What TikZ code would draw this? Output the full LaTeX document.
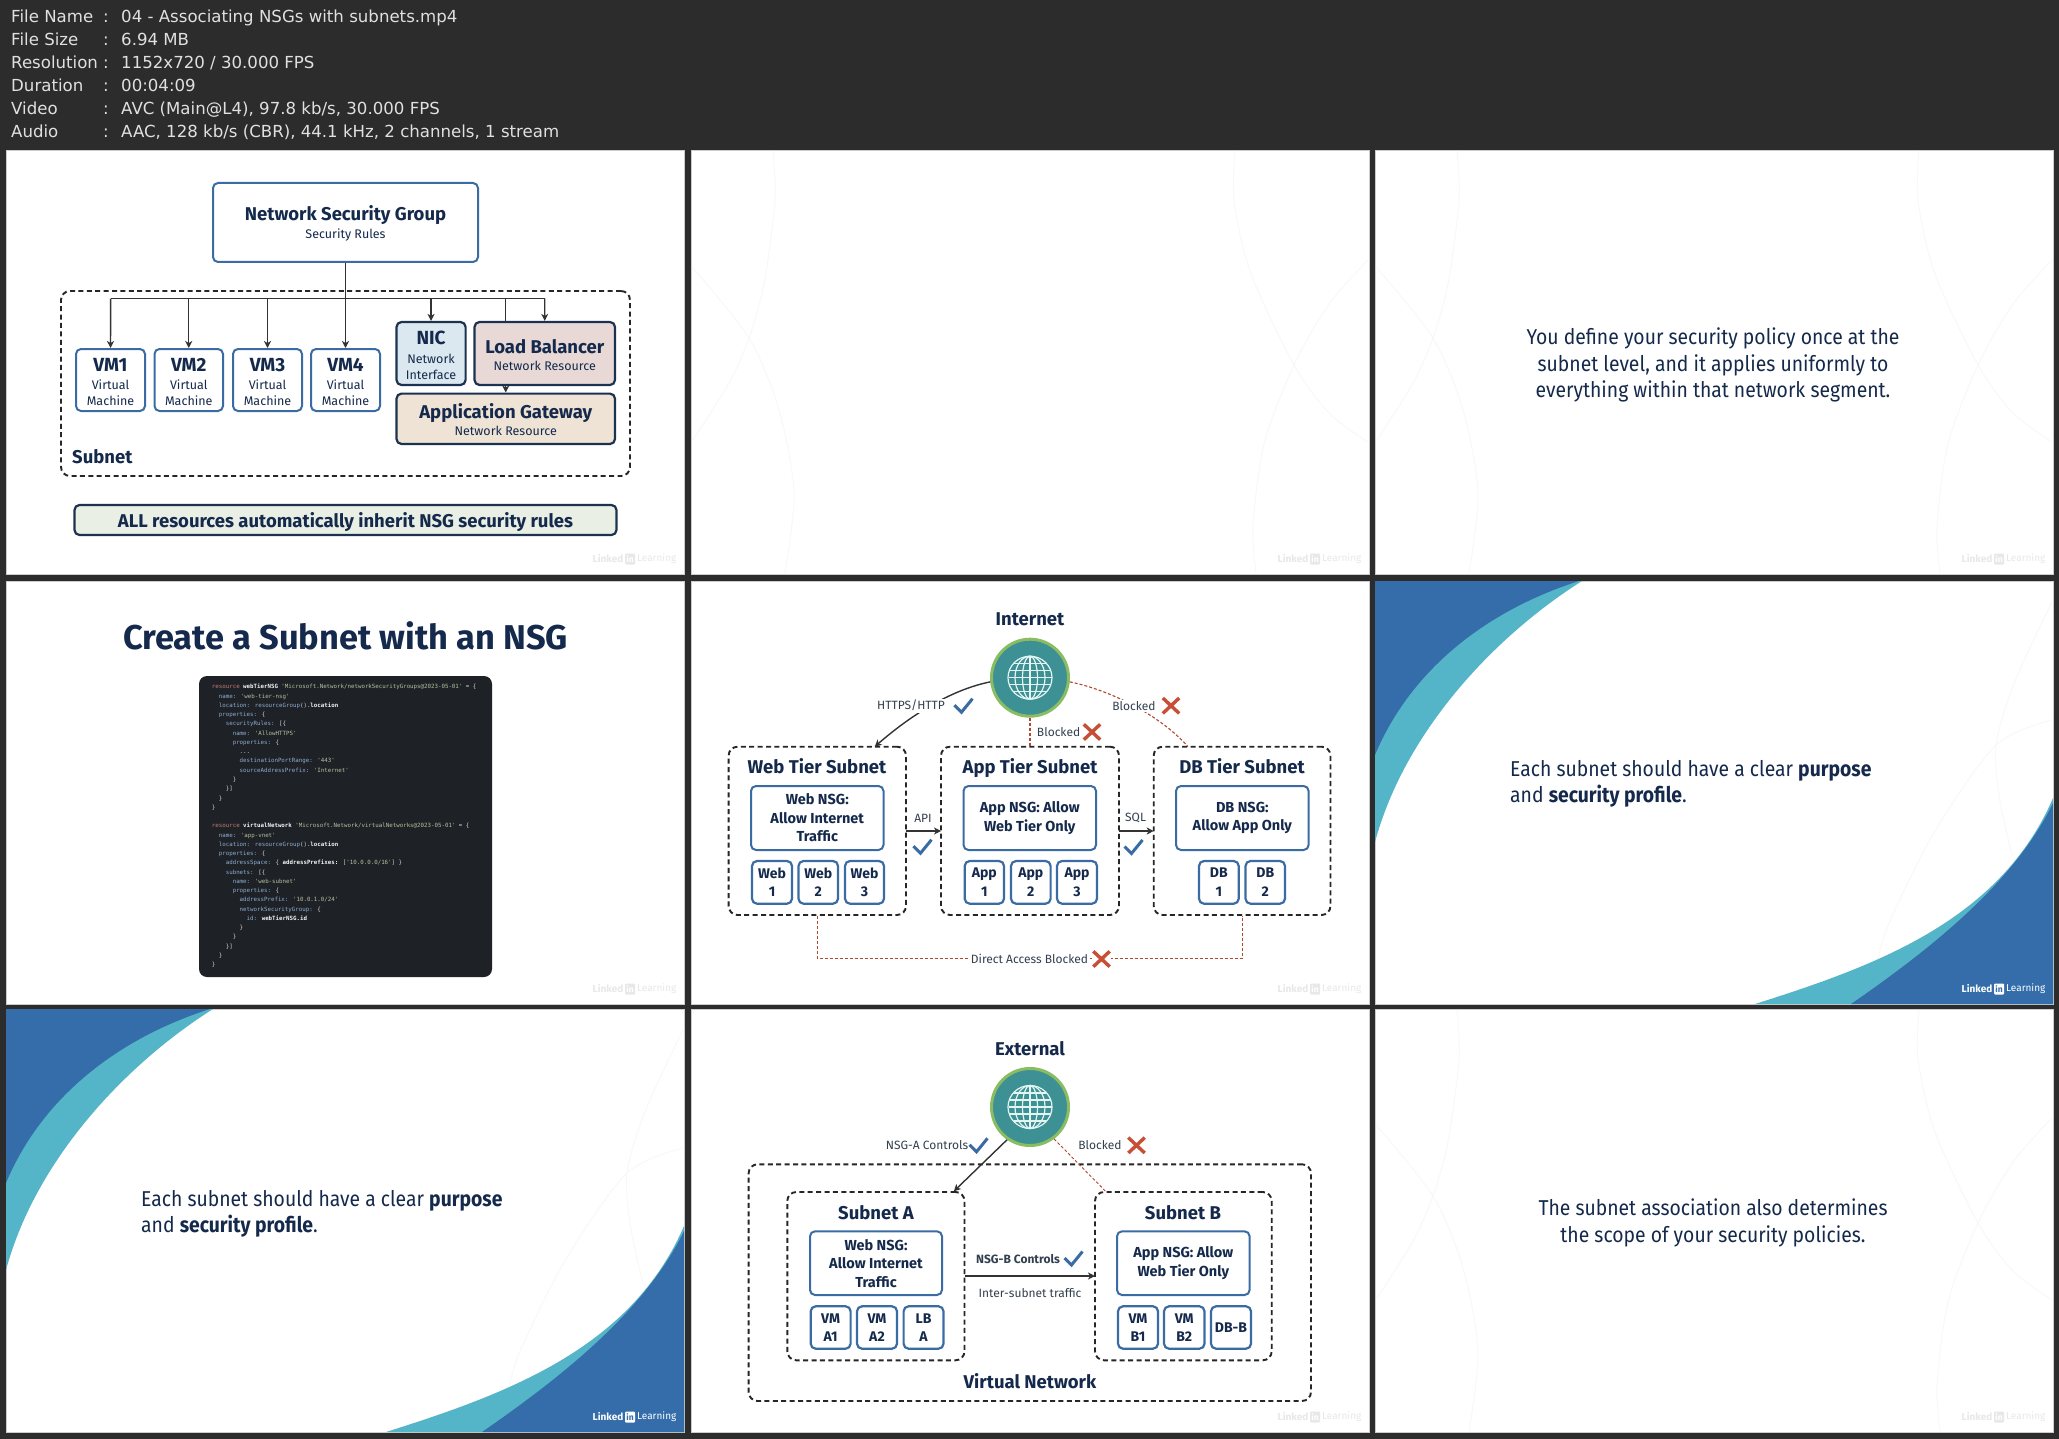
\documentclass[tikz,border=0pt]{standalone}
\usepackage{fontspec}
\setmainfont{Fira Sans}
\newfontfamily\slidef[FakeStretch=0.9]{Fira Sans}
\newfontfamily\hdr{DejaVu Sans}
\newfontfamily\cod{DejaVu Sans Mono}
\usetikzlibrary{arrows.meta,shapes.misc}
\definecolor{bgd}{HTML}{2C2C2C}
\definecolor{navy}{HTML}{14294B}
\definecolor{ink}{HTML}{33404F}
\definecolor{bluebd}{HTML}{3A6CA3}
\definecolor{darkbd}{HTML}{1C3350}
\definecolor{swA}{HTML}{346DAA}
\definecolor{swB}{HTML}{55B5C8}
\definecolor{redx}{HTML}{C64F36}
\definecolor{faintc}{HTML}{F8F9F7}
\definecolor{wm}{HTML}{E8E8E8}
\definecolor{ckw}{HTML}{C97E74}
\definecolor{cst}{HTML}{B4C49E}
\definecolor{cky}{HTML}{8FAED2}
\definecolor{cid}{HTML}{F4F4F4}
\definecolor{cfg}{HTML}{D5DADF}
\definecolor{codebg}{HTML}{1E2126}
\definecolor{nicf}{HTML}{DCE8F0}
\definecolor{lbf}{HTML}{E8D9D6}
\definecolor{agf}{HTML}{EFE3D5}
\definecolor{banf}{HTML}{E9EFE4}
\definecolor{globef}{HTML}{3D9093}
\definecolor{globeb}{HTML}{8ABD62}
\definecolor{globel}{HTML}{E3F5F3}
\definecolor{Wbg}{HTML}{FFFFFF}
\definecolor{Bbg}{HTML}{346DAA}
\newcommand{\fsz}[1]{\fontsize{#1}{#1}\selectfont}
\newcommand{\rb}[7]{\pgfmathsetmacro\rbw{#4-#2}\pgfmathsetmacro\rbh{#5-#3}%
  \node[#6,minimum width=\rbw pt,minimum height=\rbh pt] (#1) at ({(#2+#4)/2},{(#3+#5)/2}) {#7};}
\newcommand{\chk}[2]{\draw[bluebd,line width=3pt] (#1-9.5,#2-0.5)--(#1-2.5,#2+6.5)--(#1+8.5,#2-7);}
\newcommand{\crs}[3]{\node[crossx] (#1) at (#2,#3) {};}
\newcommand{\logo}[4]{% panel x, y, colour, tag
  \node[text=#3,font=\bfseries\fsz{10},anchor=east,inner sep=0pt] (lk#4#1#2) at (#1+617.5,#2+408) {Linked};
  \node[fill=#3,text=#4bg,font=\bfseries\fsz{8.5},rounded corners=1pt,inner sep=0pt,minimum width=10pt,minimum height=11pt] (in#4#1#2) at (#1+624,#2+408) {in};
  \node[text=#3,font=\fsz{10},anchor=west,inner sep=0pt] (ln#4#1#2) at (#1+631,#2+408) {Learning};}
\newcommand{\faintcurves}[2]{\begin{scope}[shift={(#1,#2)},faintc,line width=1pt]
  \draw plot[smooth] coordinates {(82,1)(84,50)(73,133)(58,187)(38,232)(2,289)};
  \draw plot[smooth] coordinates {(1,116)(58,187)(88,259)(103,342)(94,422)};
  \draw plot[smooth] coordinates {(544,1)(543,50)(560,123)(603,214)(638,262)(677,291)};
  \draw plot[smooth] coordinates {(677,109)(638,153)(603,214)(573,293)(562,376)(565,422)};
  \end{scope}}
\newcommand{\swoosh}[2]{\begin{scope}[shift={(#1,#2)}]
  \draw[faintc,line width=1pt] plot[smooth] coordinates {(677,21)(640,100)(621,164)(625,220)(637,274)};
  \draw[faintc,line width=1pt] plot[smooth] coordinates {(677,139)(621,164)(560,250)(515,340)(503,378)};
  \fill[swB] (0,0) -- (207,0) .. controls (120,55) and (30,150) .. (0,261) -- cycle;
  \fill[swA] (0,0) -- (204,0) .. controls (110,30) and (35,90) .. (0,174) -- cycle;
  \fill[swB] (678,423) -- (678,217) .. controls (625,340) and (500,385) .. (380,423) -- cycle;
  \fill[swA] (678,423) -- (678,222) .. controls (640,300) and (560,365) .. (476,423) -- cycle;
  \end{scope}}
\newcommand{\globe}[3]{% name, x, y
  \node[globec] (#1) at (#2,#3) {};
  \begin{scope}[shift={(#2,#3)},draw=globel,line width=1.2pt]
  \draw (0,0) ellipse (22pt and 21.5pt);
  \draw (0,0) ellipse (15pt and 21.5pt);
  \draw (0,0) ellipse (7.5pt and 21.5pt);
  \draw (0,-21.5) -- (0,21.5);
  \draw (-20.5,-7) -- (20.5,-7); \draw (-21.5,0) -- (21.5,0); \draw (-20.5,7) -- (20.5,7);
  \draw (-16,-14) -- (16,-14); \draw (-16,14) -- (16,14);
  \end{scope}}
\newcommand{\tstrutA}{\rule{0pt}{16.5pt}}
\newcommand{\tstrutB}{\rule{0pt}{17pt}}
\tikzset{
  panelbox/.style={fill=white,draw=black!20,line width=1pt},
  dashbox/.style={draw=black!85,line width=1.9pt,dash pattern=on 5pt off 3.4pt,rounded corners=9pt},
  vmbox/.style={draw=bluebd,line width=2pt,rounded corners=5pt,fill=white,align=center,text=navy,inner sep=0pt,font=\fsz{12.5},execute at begin node={\baselineskip=15.8pt}},
  darkbox/.style={draw=darkbd,line width=2.2pt,rounded corners=5pt,align=center,text=navy,inner sep=0pt,font=\fsz{12.5},execute at begin node={\baselineskip=15.8pt}},
  nsgtext/.style={vmbox,font=\bfseries\fsz{14.5},execute at begin node={\baselineskip=18.5pt}},
  smallbox/.style={vmbox,line width=2.2pt,font=\bfseries\fsz{14},execute at begin node={\baselineskip=18.5pt}},
  ttl/.style={text=navy,inner sep=0pt,font=\bfseries\fsz{18.5},text height=14pt,text depth=4pt,yshift=-1.5pt},
  lbl/.style={text=ink,inner sep=1.5pt,font=\fsz{12}},
  slidetxt/.style={text=navy,inner sep=0pt,font=\slidef\fsz{21.5},align=center,execute at begin node={\baselineskip=26.4pt}},
  hdrt/.style={text=white!88!black,inner sep=0pt,font=\hdr\fsz{16.6},anchor=base west},
  arr/.style={draw=black!80,line width=1.4pt,-{Stealth[length=7pt,width=7pt,inset=2pt]}},
  redd/.style={draw=redx!90!black,line width=1.1pt,dash pattern=on 3pt off 2pt},
  crossx/.style={cross out,draw=redx,line width=3.4pt,inner sep=0pt,minimum width=13pt,minimum height=12pt},
  globec/.style={circle,fill=globef,draw=globeb,line width=3pt,minimum size=77pt,inner sep=0pt},
}
\begin{document}
\begin{tikzpicture}[x=1pt,y=-1pt]
\useasboundingbox (0,0) rectangle (2059,1439);
\fill[bgd] (0,0) rectangle (2059,1439);
% header
\foreach \yy/\kk/\vv in {23/File Name/{04 - Associating NSGs with subnets.mp4},46/File Size/{6.94 MB},69/Resolution/{1152x720 / 30.000 FPS},92/Duration/{00:04:09},115/Video/{AVC (Main@L4), 97.8 kb/s, 30.000 FPS},138/Audio/{AAC, 128 kb/s (CBR), 44.1 kHz, 2 channels, 1 stream}}{
  \node[hdrt] (hk\yy) at (11,\yy) {\kk};
  \node[hdrt] (hc\yy) at (103,\yy) {:};
  \node[hdrt] (hv\yy) at (121,\yy) {\vv};
}
% panels
\foreach \px/\py/\nm in {6/151/a,691/151/b,1375/151/c,6/581/d,691/581/e,1375/581/f,6/1009/g,691/1009/h,1375/1009/i}{
  \draw[panelbox] (\px,\py) rectangle (\px+678,\py+423);
}
\faintcurves{691}{151}\faintcurves{1375}{151}\faintcurves{1375}{1009}
\swoosh{1375}{581}\swoosh{6}{1009}
% watermarks
\logo{6}{151}{wm}{W}\logo{691}{151}{wm}{W}\logo{1375}{151}{wm}{W}\logo{6}{581}{wm}{W}\logo{691}{581}{wm}{W}\logo{691}{1009}{wm}{W}\logo{1375}{1009}{wm}{W}
\logo{1375}{581}{white}{B}\logo{6}{1009}{white}{B}

% ===== panel 1
\rb{nsg}{213}{183}{478}{262}{vmbox}{\tstrutA{\bfseries\fsz{18.5}Network Security Group}\\[2pt]Security Rules}
\rb{subnet1}{61}{291}{630}{476}{dashbox}{}
\node[ttl,anchor=west] (subnet1t) at (72,456.5) {Subnet};
\rb{vm1}{76}{349}{145}{411}{vmbox}{\tstrutB{\bfseries\fsz{19}VM1}\\[3pt]Virtual\\Machine}
\rb{vm2}{154.5}{349}{223}{411}{vmbox}{\tstrutB{\bfseries\fsz{19}VM2}\\[3pt]Virtual\\Machine}
\rb{vm3}{233}{349}{302}{411}{vmbox}{\tstrutB{\bfseries\fsz{19}VM3}\\[3pt]Virtual\\Machine}
\rb{vm4}{311}{349}{380}{411}{vmbox}{\tstrutB{\bfseries\fsz{19}VM4}\\[3pt]Virtual\\Machine}
\rb{nic}{396.5}{322}{465.6}{385}{darkbox,fill=nicf}{\tstrutB{\bfseries\fsz{19}NIC}\\[3pt]Network\\Interface}
\rb{lb}{474.5}{322}{615}{385}{darkbox,fill=lbf}{\tstrutA{\bfseries\fsz{18.5}Load Balancer}\\[1.5pt]Network Resource}
\rb{ag}{396.5}{393.6}{615}{444}{darkbox,fill=agf}{\tstrutA{\bfseries\fsz{18.5}Application Gateway}\\[1.5pt]Network Resource}
\rb{banner}{74.5}{505}{616.5}{535}{darkbox,fill=banf,font=\bfseries\fsz{18.5},text height=15pt,text depth=0pt}{ALL resources automatically inherit NSG security rules}
\coordinate (busL) at (110.7,298.6);
\coordinate (busR) at (544.7,298.6);
\draw[draw=black!80,line width=1.4pt] (busL) -- (busR);
\draw[arr] (nsg.south) -- (vm4.north);
\draw[arr] (busL) -- (vm1.north);
\draw[arr] (vm2.north |- busL) -- (vm2.north);
\draw[arr] (vm3.north |- busL) -- (vm3.north);
\draw[arr] (nic.north |- busL) -- (nic.north);
\draw[arr] (busR) -- (lb.north);
\draw[draw=black!80,line width=1.4pt] (ag.north |- busL) -- (ag.north |- lb.north);
\draw[arr] (ag.north |- lb.south) -- (ag.north);

% ===== panel 3
\node[slidetxt] (p3) at (1713,365) {You define your security policy once at the\\subnet level, and it applies uniformly to\\everything within that network segment.};

% ===== panel 4
\node[text=navy,inner sep=0pt,font=\bfseries\fsz{34.4}] (p4t) at (345.5,636) {Create a Subnet with an NSG};
\rb{codebox}{199}{676}{492}{977}{fill=codebg,rounded corners=8pt,inner sep=0pt}{}
\newcommand{\kw}[1]{\textcolor{ckw}{#1}}
\newcommand{\st}[1]{\textcolor{cst}{#1}}
\newcommand{\ky}[1]{\textcolor{cky}{#1}}
\newcommand{\idn}[1]{\textcolor{cid}{\bfseries #1}}
\newcommand{\IN}[1]{\hspace*{#1\dimexpr 3.48pt\relax}}
\node[anchor=north west,inner sep=0pt,align=left,text=cfg,font=\cod\fsz{5.78},execute at begin node={\baselineskip=9.26pt}] (code) at (211.7,684) {%
\kw{resource} \idn{webTierNSG} \st{'Microsoft.Network/networkSecurityGroups@2023-05-01'} = \{\\
\IN{2}\ky{name:} \st{'web-tier-nsg'}\\
\IN{2}\ky{location:} \ky{resourceGroup}().\idn{location}\\
\IN{2}\ky{properties:} \{\\
\IN{4}\ky{securityRules:} [\{\\
\IN{6}\ky{name:} \st{'AllowHTTPS'}\\
\IN{6}\ky{properties:} \{\\
\IN{8}...\\
\IN{8}\ky{destinationPortRange:} \st{'443'}\\
\IN{8}\ky{sourceAddressPrefix:} \st{'Internet'}\\
\IN{6}\}\\
\IN{4}\}]\\
\IN{2}\}\\
\}\\
\mbox{}\\
\kw{resource} \idn{virtualNetwork} \st{'Microsoft.Network/virtualNetworks@2023-05-01'} = \{\\
\IN{2}\ky{name:} \st{'app-vnet'}\\
\IN{2}\ky{location:} \ky{resourceGroup}().\idn{location}\\
\IN{2}\ky{properties:} \{\\
\IN{4}\ky{addressSpace:} \{ \idn{addressPrefixes:} [\st{'10.0.0.0/16'}] \}\\
\IN{4}\ky{subnets:} [\{\\
\IN{6}\ky{name:} \st{'web-subnet'}\\
\IN{6}\ky{properties:} \{\\
\IN{8}\ky{addressPrefix:} \st{'10.0.1.0/24'}\\
\IN{8}\ky{networkSecurityGroup:} \{\\
\IN{10}\ky{id:} \idn{webTierNSG.id}\\
\IN{8}\}\\
\IN{6}\}\\
\IN{4}\}]\\
\IN{2}\}\\
\}};

% ===== panel 5
\node[ttl] (inetl) at (1030,619.3) {Internet};
\globe{g5}{1030}{677.7}
\rb{web}{728.6}{746.7}{906}{915}{dashbox}{}
\rb{app}{941}{746.7}{1119}{915}{dashbox}{}
\rb{db}{1153.7}{746.7}{1330.5}{915}{dashbox}{}
\node[ttl] (webt) at (817,767) {Web Tier Subnet};
\node[ttl] (appt) at (1030,767) {App Tier Subnet};
\node[ttl] (dbt) at (1242,767) {DB Tier Subnet};
\rb{webn}{751}{786}{883.5}{850}{nsgtext}{Web NSG:\\Allow Internet\\Traffic}
\rb{appn}{963.5}{786}{1096}{850}{nsgtext}{App NSG: Allow\\Web Tier Only}
\rb{dbn}{1176}{786}{1308.6}{850}{nsgtext}{DB NSG:\\Allow App Only}
\rb{w1}{752}{861}{792}{903.7}{smallbox}{Web\\1}
\rb{w2}{798.5}{861}{838}{903.7}{smallbox}{Web\\2}
\rb{w3}{845}{861}{884}{903.7}{smallbox}{Web\\3}
\rb{a1}{964.7}{861}{1004}{903.7}{smallbox}{App\\1}
\rb{a2}{1011}{861}{1050.6}{903.7}{smallbox}{App\\2}
\rb{a3}{1057}{861}{1097}{903.7}{smallbox}{App\\3}
\rb{d1}{1199}{861}{1238.7}{903.7}{smallbox}{DB\\1}
\rb{d2}{1245.5}{861}{1285}{903.7}{smallbox}{DB\\2}
\coordinate (apiA) at (906,831); \coordinate (apiB) at (941,831);
\coordinate (sqlA) at (1119,831); \coordinate (sqlB) at (1153.7,831);
\draw[arr] (apiA) -- (apiB);
\draw[arr] (sqlA) -- (sqlB);
\node[lbl] (apil) at (923,818) {API};
\node[lbl] (sqll) at (1135.6,818) {SQL};
\chk{923}{846.7}\chk{1134}{847}
\coordinate (webin) at (874.7,746.7);
\draw[arr] (g5.186) .. controls (950,690) and (910,716) .. (webin);
\node[lbl,fill=white] (httpl) at (911,705.7) {HTTPS/HTTP};
\chk{964}{705.7}
\coordinate (dbin) at (1188,746.7);
\draw[redd] (g5.354) .. controls (1110,690) and (1160,715) .. (dbin);
\node[lbl,fill=white] (bl1) at (1134,705.7) {Blocked};
\crs{x1}{1171}{705.7}
\draw[redd] (g5.south) -- (app.north);
\node[lbl] (bl2) at (1058.6,732) {Blocked};
\crs{x2}{1092}{732}
\coordinate (dbus) at (1030,958.7);
\draw[redd] (web.south) |- (dbus) -| (db.south);
\node[lbl,fill=white] (dl) at (1029.5,959) {Direct Access Blocked};
\fill[white] (1092,950) rectangle (1111,968);
\crs{x3}{1101.5}{959}

% ===== panel 8
\node[ttl] (extl) at (1030,1049.3) {External};
\globe{g8}{1030}{1107}
\rb{vnet}{748.6}{1164.3}{1311}{1401}{dashbox}{}
\rb{sa}{787.3}{1192}{964.5}{1360.3}{dashbox}{}
\rb{sb}{1095}{1192}{1271.7}{1360.3}{dashbox}{}
\node[ttl] (sat) at (876,1212.7) {Subnet A};
\node[ttl] (sbt) at (1183,1212.7) {Subnet B};
\rb{an}{810}{1231.3}{942}{1295}{nsgtext}{Web NSG:\\Allow Internet\\Traffic}
\rb{bn}{1117}{1231.3}{1249.6}{1295}{nsgtext}{App NSG: Allow\\Web Tier Only}
\rb{va1}{810.7}{1306.3}{850.6}{1348.7}{smallbox}{VM\\A1}
\rb{va2}{857}{1306.3}{897}{1348.7}{smallbox}{VM\\A2}
\rb{lba}{903.6}{1306.3}{943.5}{1348.7}{smallbox}{LB\\A}
\rb{vb1}{1118}{1306.3}{1158}{1348.7}{smallbox}{VM\\B1}
\rb{vb2}{1164}{1306.3}{1204.5}{1348.7}{smallbox}{VM\\B2}
\rb{dbb}{1211}{1306.3}{1251}{1348.7}{smallbox}{DB-B}
\node[ttl] (vnl) at (1030,1381.7) {Virtual Network};
\coordinate (ain) at (953.8,1191.3);
\coordinate (bin) at (1105.6,1191.3);
\draw[arr] (g8.235) -- (ain);
\draw[redd,line width=0.9pt] (g8.307) -- (bin);
\node[lbl] (nal) at (927,1145.3) {NSG-A Controls};
\chk{979}{1145.3}
\node[lbl] (bl8) at (1100,1145.3) {Blocked};
\crs{x8}{1136.5}{1145.3}
\coordinate (ba) at (964.5,1276); \coordinate (bb) at (1095,1276);
\draw[arr] (ba) -- (bb);
\node[lbl,font=\bfseries\fsz{12}] (nbl) at (1018,1258.7) {NSG-B Controls};
\chk{1074}{1258.5}
\node[lbl] (isl) at (1030,1292.7) {Inter-subnet traffic};

% ===== panels 6, 7, 9
\node[slidetxt,align=left,anchor=north west] (p6) at (1510,760) {Each subnet should have a clear \textbf{purpose}\\and \textbf{security profile}.};
\node[slidetxt,align=left,anchor=north west] (p7) at (141,1190) {Each subnet should have a clear \textbf{purpose}\\and \textbf{security profile}.};
\node[slidetxt] (p9) at (1713,1223) {The subnet association also determines\\the scope of your security policies.};
\end{tikzpicture}
\end{document}
